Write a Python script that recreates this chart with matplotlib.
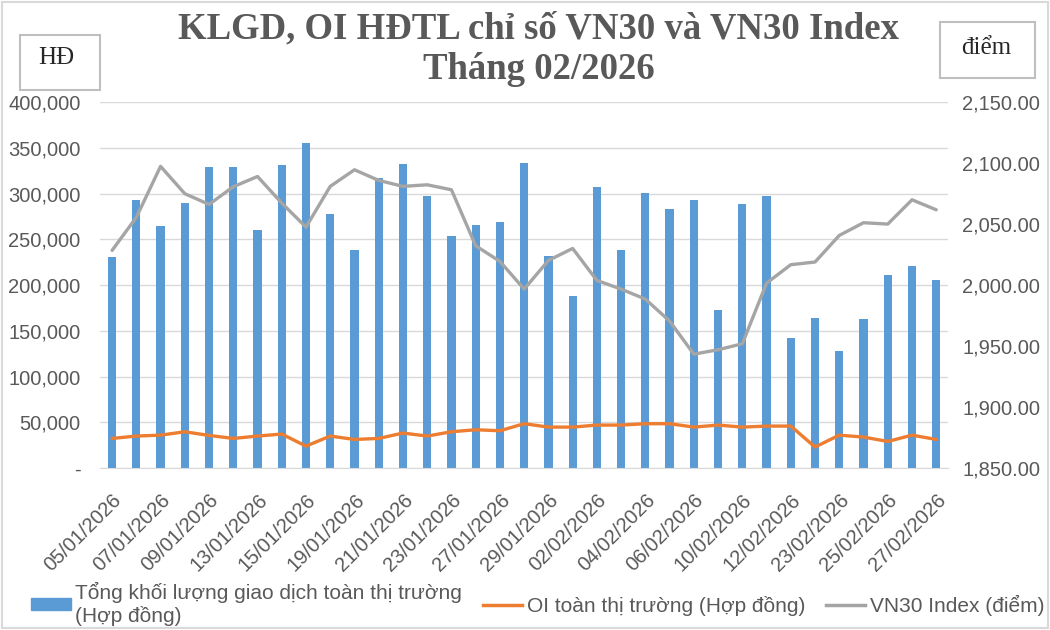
import matplotlib
matplotlib.use("Agg")
import matplotlib.pyplot as plt
from matplotlib.patches import Rectangle, Patch
from matplotlib.lines import Line2D
from matplotlib.ticker import FuncFormatter, MultipleLocator

plt.rcParams["font.family"] = ["Liberation Sans", "DejaVu Sans"]

DATES = [
    "05/01/2026", "06/01/2026", "07/01/2026", "08/01/2026", "09/01/2026",
    "12/01/2026", "13/01/2026", "14/01/2026", "15/01/2026", "16/01/2026",
    "19/01/2026", "20/01/2026", "21/01/2026", "22/01/2026", "23/01/2026",
    "26/01/2026", "27/01/2026", "28/01/2026", "29/01/2026", "30/01/2026",
    "02/02/2026", "03/02/2026", "04/02/2026", "05/02/2026", "06/02/2026",
    "09/02/2026", "10/02/2026", "11/02/2026", "12/02/2026", "13/02/2026",
    "23/02/2026", "24/02/2026", "25/02/2026", "26/02/2026", "27/02/2026",
]

# Tổng KLGD toàn thị trường (hợp đồng)
VOLUME = [
    231000, 292500, 265000, 290000, 329000, 329000, 260000, 331000, 355600, 278000,
    238000, 317000, 332600, 297600, 254000, 266000, 268500, 333700, 232000, 188300,
    307000, 238000, 301000, 283000, 292500, 172700, 289000, 297600, 142000, 164000,
    127500, 162800, 211000, 221000, 205500,
]

# OI toàn thị trường (hợp đồng)
OI = [
    32400, 35000, 36000, 39700, 35700, 32400, 35000, 37200, 24000, 35000,
    31300, 32400, 38300, 35000, 39700, 41900, 40800, 48500, 44800, 44800,
    47000, 47000, 48500, 48500, 44800, 47000, 44800, 45900, 45900, 23000,
    36000, 33900, 29100, 36000, 31300,
]

# VN30 Index (điểm)
VN30 = [
    2028.4, 2055.5, 2097.3, 2074.9, 2066.1, 2080.6, 2089.0, 2067.2, 2047.5, 2080.9,
    2094.5, 2085.8, 2080.9, 2082.2, 2078.1, 2032.2, 2019.4, 1996.7, 2020.2, 2030.0,
    2003.8, 1996.7, 1988.5, 1970.5, 1943.4, 1947.0, 1951.9, 2001.6, 2016.7, 2018.9,
    2040.7, 2051.1, 2050.0, 2069.9, 2061.7,
]

BLUE = "#5B9BD5"
ORANGE = "#ED7D31"
GRAY = "#A5A5A5"
TEXT = "#595959"
GRID = "#D9D9D9"
SERIF = ["Liberation Serif", "DejaVu Serif"]

fig = plt.figure(figsize=(10.5, 6.3), dpi=100)
ax = fig.add_axes([0.0952, 0.257, 0.808, 0.581])
ax2 = ax.twinx()

x = list(range(len(DATES)))
ax.bar(x, VOLUME, width=0.34, color=BLUE, zorder=2)
ax.plot(x, OI, color=ORANGE, lw=2.4, zorder=3, solid_capstyle="round")
ax2.plot(x, VN30, color=GRAY, lw=2.4, zorder=3, solid_capstyle="round")

ax.set_xlim(-0.5, len(DATES) - 0.5)
ax.set_ylim(0, 400000)
ax2.set_ylim(1850, 2150)
ax.yaxis.set_major_locator(MultipleLocator(50000))
ax2.yaxis.set_major_locator(MultipleLocator(50))
ax.yaxis.set_major_formatter(FuncFormatter(lambda v, p: "-" if v == 0 else f"{v:,.0f}"))
ax2.yaxis.set_major_formatter(FuncFormatter(lambda v, p: f"{v:,.2f}"))

ax.set_xticks(x[::2])
ax.set_xticklabels(DATES[::2], rotation=45, ha="right", rotation_mode="anchor")

ax.grid(axis="y", color=GRID, lw=1, zorder=0)
ax.set_axisbelow(True)
for a in (ax, ax2):
    for s in ("top", "left", "right"):
        a.spines[s].set_visible(False)
    a.spines["bottom"].set_color(GRID)
ax2.spines["bottom"].set_visible(False)

ax.tick_params(axis="y", length=0, pad=14, labelsize=14.5, labelcolor=TEXT)
ax2.tick_params(axis="y", length=0, pad=10, labelsize=14.5, labelcolor=TEXT)
ax.tick_params(axis="x", length=0, pad=16, labelsize=14.5, labelcolor=TEXT)

# title
fig.text(0.513, 1 - 49 / 630, "KLGD, OI HĐTL chỉ số VN30 và VN30 Index\nTháng 02/2026",
         ha="center", va="center", fontsize=26.5, fontweight="bold", color=TEXT,
         family=SERIF, linespacing=1.2)

# unit boxes
fig.add_artist(Rectangle((20 / 1050, 1 - 90 / 630), 80 / 1050, 55 / 630,
                         transform=fig.transFigure, fill=False, ec="#BFBFBF", lw=1.5))
fig.text(56 / 1050, 1 - 58 / 630, "HĐ", ha="center", va="center", fontsize=18,
         family=SERIF, color="#262626")
fig.add_artist(Rectangle((940 / 1050, 1 - 78 / 630), 95 / 1050, 56 / 630,
                         transform=fig.transFigure, fill=False, ec="#BFBFBF", lw=1.5))
fig.text(986 / 1050, 1 - 48 / 630, "điểm", ha="center", va="center", fontsize=18,
         family=SERIF, color="#262626")

# chart border
fig.add_artist(Rectangle((0.002, 0.003), 0.996, 0.994, transform=fig.transFigure,
                         fill=False, ec=GRID, lw=1.5))

handles = [
    Patch(color=BLUE),
    Line2D([], [], color=ORANGE, lw=2.5),
    Line2D([], [], color=GRAY, lw=2.5),
]
labels = [
    "Tổng khối lượng giao dịch toàn thị trường\n(Hợp đồng)",
    "OI toàn thị trường (Hợp đồng)",
    "VN30 Index (điểm)",
]
fig.legend(handles, labels, loc="lower left", bbox_to_anchor=(0.012, -0.024), ncol=3,
           frameon=False, fontsize=15, labelcolor=TEXT, handlelength=1.9,
           handleheight=0.5, handletextpad=0.2, columnspacing=1.0, labelspacing=0.1)

fig.savefig("out.png", dpi=100)
